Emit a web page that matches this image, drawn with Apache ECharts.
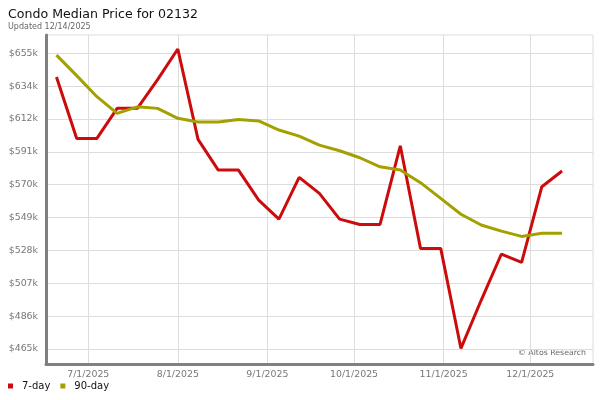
<!DOCTYPE html>
<html>
<head>
<meta charset="utf-8">
<script src="https://cdn.jsdelivr.net/npm/echarts@6/dist/echarts.min.js"></script>
<style>html,body{margin:0;padding:0;background:#fff}#c{width:600px;height:400px}</style>
</head>
<body>
<div id="c"></div>
<script>
// Weekly dates (UTC)
var dates = ["2025-06-20","2025-06-27","2025-07-04","2025-07-11","2025-07-18","2025-07-25",
  "2025-08-01","2025-08-08","2025-08-15","2025-08-22","2025-08-29","2025-09-05","2025-09-12",
  "2025-09-19","2025-09-26","2025-10-03","2025-10-10","2025-10-17","2025-10-24","2025-10-31",
  "2025-11-07","2025-11-14","2025-11-21","2025-11-28","2025-12-05","2025-12-12"];
var sevenDay = [639600,600200,600200,619500,619500,638000,657600,599600,579900,579900,560600,548400,
  575200,564900,548400,545000,545000,595500,529600,529600,465400,496300,526000,520600,569200,579300];
var ninetyDay = [653700,640500,627000,616300,620500,619500,613100,610700,610700,612400,611400,605600,
  601700,595900,592300,587800,582000,579900,571800,561700,551500,544600,540700,537300,539300,539300];
var yTickValues = [465000,486100,507200,528300,549400,570500,591600,612700,633800,654900];
var yTickLabels = ["$465k","$486k","$507k","$528k","$549k","$570k","$591k","$612k","$634k","$655k"];
var xTickDates = ["2025-07-01","2025-08-01","2025-09-01","2025-10-01","2025-11-01","2025-12-01"];
var xTickLabels = ["7/1/2025","8/1/2025","9/1/2025","10/1/2025","11/1/2025","12/1/2025"];

function ts(s){var p=s.split('-');return Date.UTC(+p[0],+p[1]-1,+p[2]);}
var xTicks = xTickDates.map(ts);
var FONT = 'DejaVu Sans';

var chart = echarts.init(document.getElementById('c'), null, {renderer:'canvas'});
chart.setOption({
  animation:false,
  backgroundColor:'#fff',
  title:{
    text:'Condo Median Price for 02132',
    subtext:'Updated 12/14/2025',
    left:3, top:3, itemGap:2,
    textStyle:{fontFamily:FONT,fontSize:12.6,fontWeight:'normal',color:'#111'},
    subtextStyle:{fontFamily:FONT,fontSize:8,color:'#666'}
  },
  legend:{
    left:3, top:376, icon:'rect', itemWidth:5, itemHeight:5, itemGap:10,
    textStyle:{fontFamily:FONT,fontSize:10,color:'#111',padding:[0,0,0,4]},
    data:['7-day','90-day']
  },
  grid:{left:46,right:7,top:35,bottom:36,show:true,borderColor:'#ddd',borderWidth:1},
  xAxis:{
    type:'value',
    min:Date.UTC(2025,5,16,9), max:Date.UTC(2025,11,22,17),
    axisLine:{lineStyle:{color:'#808080',width:3}},
    axisTick:{show:false,customValues:xTicks},
    axisLabel:{customValues:xTicks,fontFamily:FONT,fontSize:9.4,color:'#777',margin:6,
      formatter:function(v){var i=xTicks.indexOf(v);return i>=0?xTickLabels[i]:'';}},
    splitLine:{show:true,lineStyle:{color:'#ddd',width:1}}
  },
  yAxis:{
    type:'value', min:455400, max:666600,
    axisLine:{show:true,lineStyle:{color:'#808080',width:3}},
    axisTick:{show:false,customValues:yTickValues},
    axisLabel:{customValues:yTickValues,fontFamily:FONT,fontSize:9.4,color:'#777',margin:8,
      formatter:function(v){var i=yTickValues.indexOf(v);return i>=0?yTickLabels[i]:'';}},
    splitLine:{show:true,lineStyle:{color:'#ddd',width:1}}
  },
  graphic:[{type:'text',right:14,top:349,style:{text:'\u00a9 Altos Research',fontFamily:FONT,fontSize:7.8,fill:'#666'}}],
  series:[
    {name:'7-day',type:'line',data:dates.map(function(d,i){return [ts(d),sevenDay[i]];}),
      showSymbol:false,symbol:'none',color:'#CC0C0C',lineStyle:{width:3,color:'#CC0C0C'}},
    {name:'90-day',type:'line',data:dates.map(function(d,i){return [ts(d),ninetyDay[i]];}),
      showSymbol:false,symbol:'none',color:'#A3A000',lineStyle:{width:3,color:'#A3A000'}}
  ]
});
</script>
</body>
</html>
